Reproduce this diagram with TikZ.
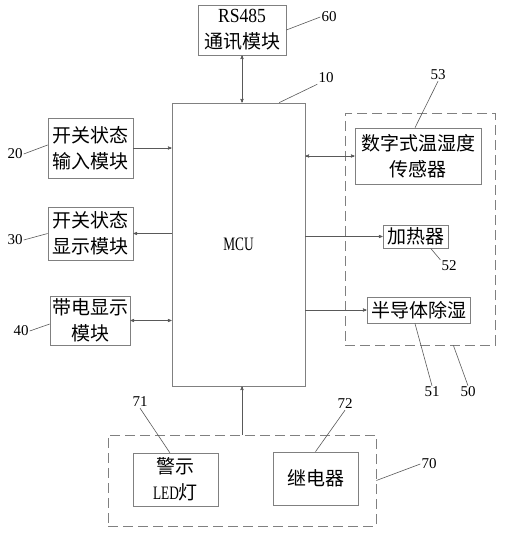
\documentclass[tikz,border=0pt]{standalone}
\usepackage{fontspec}
\setmainfont{Liberation Serif}
\newfontfamily\cjk{Noto Sans CJK SC}
\newfontfamily\condrm[FakeStretch=0.7]{Liberation Serif}
\newfontfamily\semirm[FakeStretch=0.88]{Liberation Serif}
\usetikzlibrary{arrows}

\begin{document}
\begin{tikzpicture}[x=1pt, y=-1pt, >=stealth',
    box/.style={draw=gray, line width=0.7pt, inner sep=0pt, align=center,
        font=\cjk\fontsize{19}{26}\selectfont},
    group/.style={draw=gray, line width=0.7pt, dash pattern=on 10pt off 5pt, inner sep=0pt},
    num/.style={font=\fontsize{15}{15}\selectfont, inner sep=1pt},
    lead/.style={gray!70!black, line width=0.6pt},
    link/.style={gray!70!black, line width=0.5pt}]
    \useasboundingbox (0,0) rectangle (505,534);

    % the controller in the middle
    \node [box, minimum width=133pt, minimum height=283pt,
        font=\condrm\fontsize{19}{19}\selectfont] (MCU) at (238.5,244.5) {MCU};
    \node [box, minimum width=88pt, minimum height=50pt] (RS_485) at (242,30)
        {{\semirm\fontsize{20}{26}\selectfont RS485}\\通讯模块};

    % left column
    \node [box, minimum width=85pt, minimum height=60pt] (Box_20) at (90.5,148) {开关状态\\输入模块};
    \node [box, minimum width=85pt, minimum height=53pt] (Box_30) at (90.5,233.5) {开关状态\\显示模块};
    \node [box, minimum width=80pt, minimum height=49pt] (Box_40) at (90,320.5) {带电显示\\模块};

    % right group, dashed
    \node [group, minimum width=150pt, minimum height=232pt] (Grp_50) at (420,229) {};
    \node [box, minimum width=126pt, minimum height=56pt] (Box_53) at (418,156) {数字式温湿度\\传感器};
    \node [box, minimum width=65pt, minimum height=23pt] (Box_52) at (415.5,236.5) {加热器};
    \node [box, minimum width=103pt, minimum height=26pt] (Box_51) at (418.5,310) {半导体除湿};

    % bottom group, dashed
    \node [group, minimum width=268pt, minimum height=91pt] (Grp_70) at (242,480.5) {};
    \node [box, minimum width=85pt, minimum height=53pt] (Box_71) at (175.5,479.5)
        {警示\\{\condrm LED}灯};
    \node [box, minimum width=85pt, minimum height=53pt] (Box_72) at (315.5,478.5) {继电器};

    % signal lines
    \draw [link, <->] (RS_485.south) -- (RS_485.south |- MCU.north);
    \draw [link, ->] (Box_20.east) -- (Box_20.east -| MCU.west);
    \draw [link, ->] (MCU.west |- Box_30.east) -- (Box_30.east);
    \draw [link, <->] (Box_40.east) -- (Box_40.east -| MCU.west);
    \draw [link, <->] (MCU.east |- Box_53.west) -- (Box_53.west);
    \draw [link, ->] (MCU.east |- Box_52.west) -- (Box_52.west);
    \draw [link, ->] (MCU.east |- Box_51.west) -- (Box_51.west);
    \draw [link, ->] (Grp_70.north) -- (Grp_70.north |- MCU.south);

    % reference numbers
    \node [num] (Lbl_60) at (329,17) {60};
    \node [num] (Lbl_10) at (326,78) {10};
    \node [num] (Lbl_53) at (438,75) {53};
    \node [num] (Lbl_20) at (15,154) {20};
    \node [num] (Lbl_30) at (15,240) {30};
    \node [num] (Lbl_40) at (21,331) {40};
    \node [num] (Lbl_52) at (449,266) {52};
    \node [num] (Lbl_51) at (432,392) {51};
    \node [num] (Lbl_50) at (468,392) {50};
    \node [num] (Lbl_71) at (140,402) {71};
    \node [num] (Lbl_72) at (345,404) {72};
    \node [num] (Lbl_70) at (429,464) {70};

    % leader lines
    \draw [lead] (RS_485.east) -- (Lbl_60.west);
    \draw [lead] (MCU.74) -- (Lbl_10.south west);
    \draw [lead] (Box_53.96) -- (Lbl_53.south);
    \draw [lead] (Lbl_20.east) -- (Box_20.176);
    \draw [lead] (Lbl_30.east) -- (Box_30.west);
    \draw [lead] (Lbl_40.east) -- (Box_40.185);
    \draw [lead] (Box_52.-38) -- (Lbl_52.north west);
    \draw [lead] (Box_51.-105) -- (Lbl_51.north);
    \draw [lead] (Grp_50.-74) -- (Lbl_50.north);
    \draw [lead] (Lbl_71.south) -- (Box_71.102);
    \draw [lead] (Lbl_72.south) -- (Box_72.north);
    \draw [lead] (Grp_70.east) -- (Lbl_70.west);
\end{tikzpicture}
\end{document}
